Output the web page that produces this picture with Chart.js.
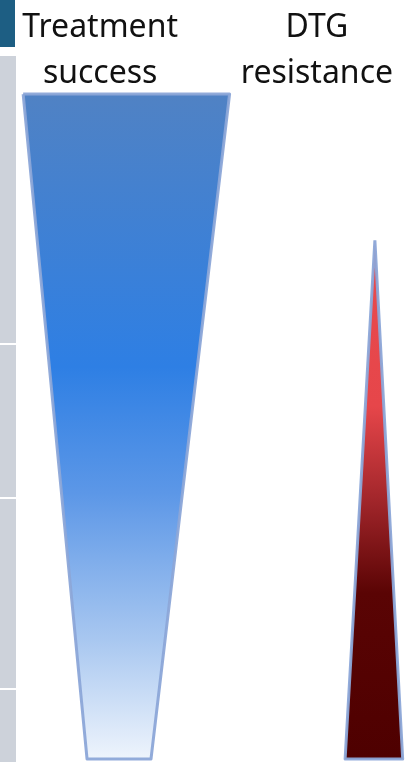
<!DOCTYPE html>
<html>
<head>
<meta charset="utf-8">
<script src="https://cdn.jsdelivr.net/npm/chart.js@4.4.1/dist/chart.umd.min.js"></script>
<style>
  html, body { margin: 0; padding: 0; background: #fff; }
  #wrap { position: relative; width: 413px; height: 762px; overflow: hidden; }
  #myChart { position: absolute; left: 0; top: 0; }
  .strip { position: absolute; left: 0; width: 16px; background: #cdd2da; }
  .tab { position: absolute; left: 0; top: 0; width: 15px; height: 47px; background: #1d5e83; }
</style>
</head>
<body>
<div id="wrap">
  <canvas id="myChart" width="413" height="762"></canvas>
  <div class="tab"></div>
  <div class="strip" style="top:56px;height:287px"></div>
  <div class="strip" style="top:345px;height:152px"></div>
  <div class="strip" style="top:499px;height:189px"></div>
  <div class="strip" style="top:690px;height:72px"></div>
</div>
<script>
// categories and shape values (x in % of width, y in % of height)
const categories = [["Treatment", "success"], ["DTG", "resistance"]];
const headerAt = [21.2, 75.8];
const topLevel = [100, 78];
const topLeft = [1.8, 90.4];
const topRight = [53.8, 90.4];
const bottomLeft = [17.9, 82.9];
const bottomRight = [34.0, 97.4];

const blueStops = [[0, "#5082c4"], [0.41, "#2e7fe4"], [0.6, "#5c97e7"], [0.82, "#a8c7f0"], [1, "#eef4fc"]];
const redStops = [[0, "#e84a4e"], [0.32, "#e6464a"], [0.5, "#a2262b"], [0.68, "#5a0404"], [1, "#4e0000"]];

const shapePoints = (i) => [
  { x: topLeft[i], y: topLevel[i] },
  { x: topRight[i], y: topLevel[i] },
  { x: bottomRight[i], y: 0 },
  { x: bottomLeft[i], y: 0 },
  { x: topLeft[i], y: topLevel[i] },
];

const shapeFill = (stops) => (context) => {
  const chart = context.chart;
  const { ctx, chartArea, scales } = chart;
  if (!chartArea) return null;
  const i = context.datasetIndex;
  const y0 = scales.y.getPixelForValue(topLevel[i]);
  const y1 = scales.y.getPixelForValue(0);
  const g = ctx.createLinearGradient(0, y0, 0, y1);
  stops.forEach(([o, c]) => g.addColorStop(o, c));
  return g;
};

const ctx = document.getElementById("myChart").getContext("2d");
const myChart = new Chart(ctx, {
  type: "scatter",
  data: {
    datasets: [
      {
        label: categories[0].join(" "),
        data: shapePoints(0),
        backgroundColor: shapeFill(blueStops),
      },
      {
        label: categories[1].join(" "),
        data: shapePoints(1),
        backgroundColor: shapeFill(redStops),
      },
    ].map((d) => ({
      ...d,
      showLine: true,
      fill: "shape",
      tension: 0,
      borderColor: "rgba(140, 166, 216, 0.95)",
      borderWidth: 3,
      borderJoinStyle: "round",
      pointRadius: 0,
      pointHoverRadius: 0,
      clip: false,
    })),
  },
  options: {
    responsive: false,
    animation: false,
    events: [],
    layout: { padding: { left: 16, right: 0, top: 0, bottom: 3 } },
    plugins: { legend: { display: false }, tooltip: { enabled: false } },
    scales: {
      x: {
        type: "linear",
        position: "top",
        min: 0,
        max: 100,
        grid: { display: false, drawTicks: false },
        border: { display: false },
        afterBuildTicks: (scale) => {
          scale.ticks = headerAt.map((v) => ({ value: v }));
        },
        afterFit: (scale) => {
          scale.height = 94;
        },
        ticks: {
          padding: -3,
          maxRotation: 0,
          autoSkip: false,
          color: "#111",
          font: { family: "'Noto Sans', sans-serif", size: 32, lineHeight: 1.44 },
          callback: (value) => {
            const i = headerAt.indexOf(value);
            return i >= 0 ? categories[i] : "";
          },
        },
      },
      y: {
        display: false,
        min: 0,
        max: 100,
      },
    },
  },
});
</script>
</body>
</html>
